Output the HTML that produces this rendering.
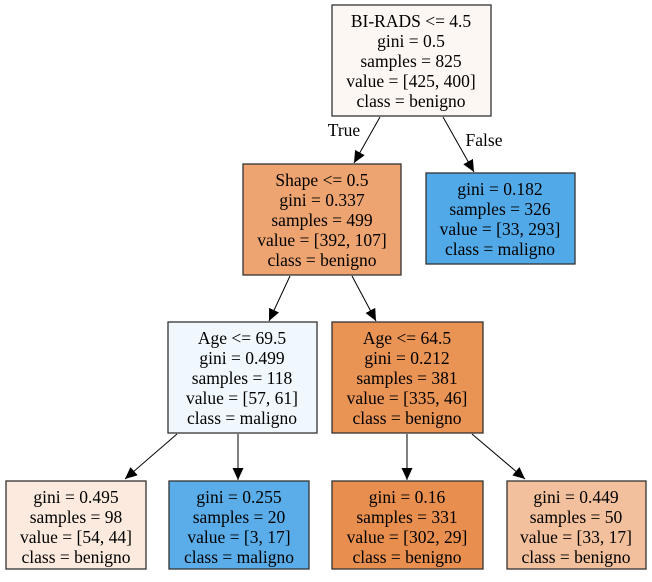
<!DOCTYPE html>
<html><head><style>
html,body{margin:0;padding:0;background:#fff;}
svg text{font-family:"Liberation Serif",serif;font-size:17.5px;fill:#000;text-anchor:middle;}
</style></head><body>
<svg width="652" height="577" viewBox="0 0 652 577" xmlns="http://www.w3.org/2000/svg">
<defs><marker id="a" markerWidth="12" markerHeight="12" refX="12" refY="5.5" orient="auto" markerUnits="userSpaceOnUse"><path d="M0,0 L12,5.5 L0,11 z" fill="#000"/></marker></defs>
<g stroke="#000" stroke-width="1" fill="none">
<line x1="380" y1="117" x2="354" y2="163" marker-end="url(#a)"/>
<line x1="443" y1="117" x2="474" y2="172" marker-end="url(#a)"/>
<line x1="290" y1="276" x2="269" y2="321" marker-end="url(#a)"/>
<line x1="352" y1="276" x2="376" y2="321" marker-end="url(#a)"/>
<line x1="177" y1="434" x2="125" y2="479" marker-end="url(#a)"/>
<line x1="238" y1="434" x2="238" y2="480" marker-end="url(#a)"/>
<line x1="407" y1="434" x2="407" y2="480" marker-end="url(#a)"/>
<line x1="472" y1="434" x2="525" y2="479" marker-end="url(#a)"/>
</g>
<g stroke="#333" stroke-width="1.3">
<rect x="332" y="5" width="159" height="111" fill="#fdf7f3"/>
<rect x="243" y="164" width="158" height="111" fill="#eda471"/>
<rect x="426" y="173" width="149" height="91" fill="#52a9e8"/>
<rect x="168" y="322" width="149" height="111" fill="#f1f8fd"/>
<rect x="332" y="322" width="151" height="111" fill="#e99355"/>
<rect x="6" y="481" width="140" height="88" fill="#fbeadd"/>
<rect x="169" y="481" width="140" height="88" fill="#5aade9"/>
<rect x="332" y="481" width="151" height="88" fill="#e88f4f"/>
<rect x="507" y="481" width="139" height="88" fill="#f2c09c"/>
</g>
<text x="411" y="27">BI-RADS &lt;= 4.5</text><text x="411" y="47">gini = 0.5</text><text x="411" y="67">samples = 825</text><text x="411" y="87">value = [425, 400]</text><text x="411" y="107">class = benigno</text>
<text x="344" y="136">True</text><text x="484" y="146">False</text>
<text x="322" y="186">Shape &lt;= 0.5</text><text x="322" y="206">gini = 0.337</text><text x="322" y="226">samples = 499</text><text x="322" y="246">value = [392, 107]</text><text x="322" y="266">class = benigno</text>
<text x="500" y="195">gini = 0.182</text><text x="500" y="215">samples = 326</text><text x="500" y="235">value = [33, 293]</text><text x="500" y="255">class = maligno</text>
<text x="242" y="344">Age &lt;= 69.5</text><text x="242" y="364">gini = 0.499</text><text x="242" y="384">samples = 118</text><text x="242" y="404">value = [57, 61]</text><text x="242" y="424">class = maligno</text>
<text x="407" y="344">Age &lt;= 64.5</text><text x="407" y="364">gini = 0.212</text><text x="407" y="384">samples = 381</text><text x="407" y="404">value = [335, 46]</text><text x="407" y="424">class = benigno</text>
<text x="76" y="503">gini = 0.495</text><text x="76" y="523">samples = 98</text><text x="76" y="543">value = [54, 44]</text><text x="76" y="563">class = benigno</text>
<text x="239" y="503">gini = 0.255</text><text x="239" y="523">samples = 20</text><text x="239" y="543">value = [3, 17]</text><text x="239" y="563">class = maligno</text>
<text x="407" y="503">gini = 0.16</text><text x="407" y="523">samples = 331</text><text x="407" y="543">value = [302, 29]</text><text x="407" y="563">class = benigno</text>
<text x="576" y="503">gini = 0.449</text><text x="576" y="523">samples = 50</text><text x="576" y="543">value = [33, 17]</text><text x="576" y="563">class = benigno</text>
</svg>
</body></html>
